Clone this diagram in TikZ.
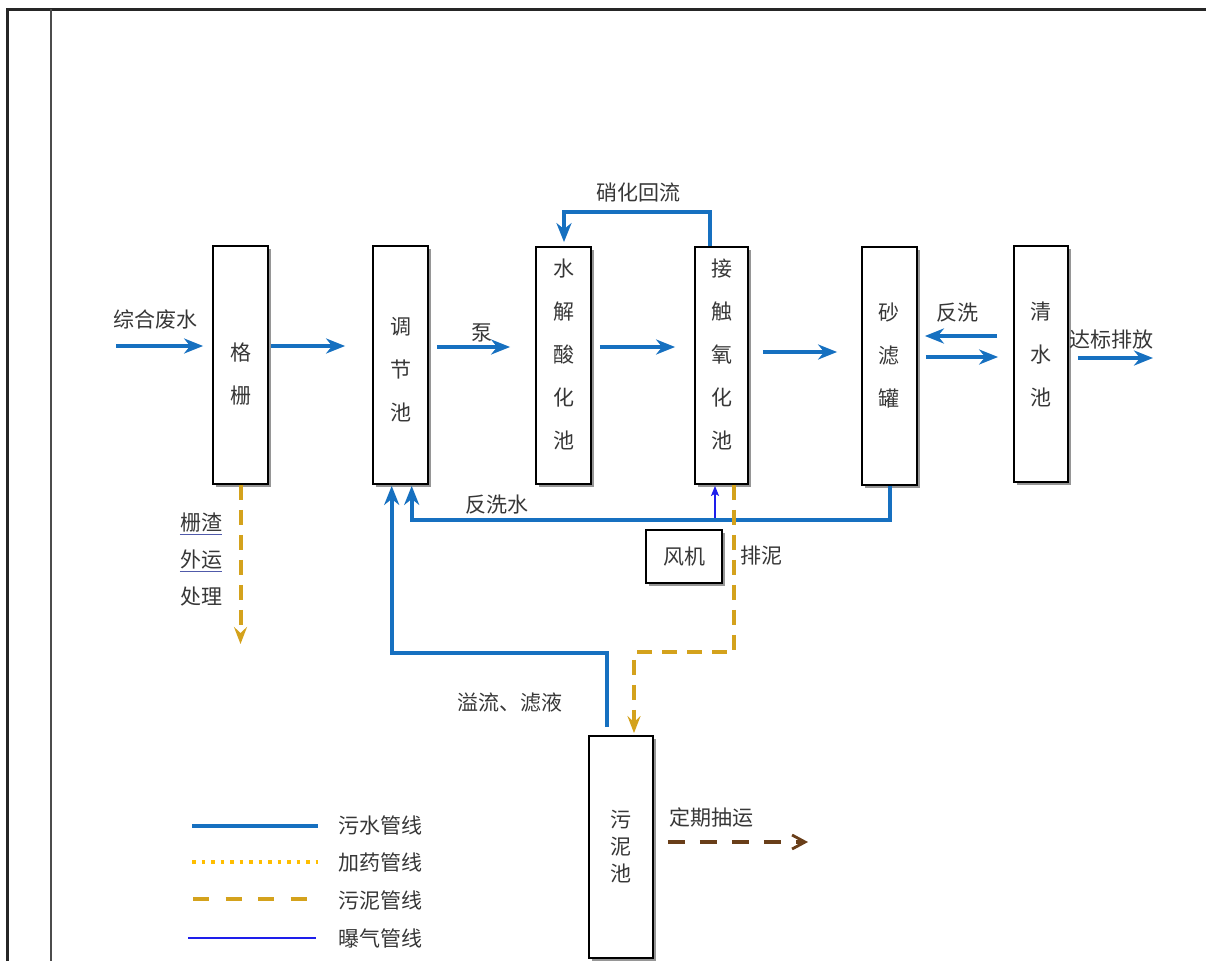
\documentclass[tikz,border=0pt]{standalone}
\usepackage{fontspec}
\newfontfamily\cjk{Noto Sans CJK SC}
\usetikzlibrary{arrows.meta,shadows,calc}
\definecolor{pipe}{RGB}{22,112,192}
\definecolor{sludge}{RGB}{212,162,28}
\definecolor{dose}{RGB}{255,190,0}
\definecolor{air}{RGB}{30,30,235}
\definecolor{brownc}{RGB}{105,62,25}
\definecolor{txt}{RGB}{55,55,55}
\definecolor{ulc}{RGB}{80,90,170}
\begin{document}
\begin{tikzpicture}[x=1pt,y=-1pt,
  tank/.style={draw=black,line width=1.8pt,fill=white,minimum width=55pt,minimum height=238pt,inner sep=0pt,
    drop shadow={shadow xshift=3pt,shadow yshift=-3pt,fill=black!55,opacity=0.75}},
  vt/.style={font=\cjk\fontsize{21}{43}\selectfont,text=txt,align=center,inner sep=0pt},
  lbl/.style={font=\cjk\fontsize{21}{25}\selectfont,text=txt,inner sep=0pt},
  bluep/.style={draw=pipe,line width=4pt,-{Stealth[length=19pt,width=15pt,inset=6pt]}},
  bluel/.style={draw=pipe,line width=4pt},
  sludgep/.style={draw=sludge,line width=4pt,dash pattern=on 15pt off 10pt,-{Stealth[length=17pt,width=13pt,inset=6pt]}},
  sludgel/.style={draw=sludge,line width=4pt,dash pattern=on 16pt off 16.5pt},
  dosel/.style={draw=dose,line width=3.5pt,dash pattern=on 3.5pt off 6pt},
  airp/.style={draw=air,line width=1.6pt,-{Stealth[length=10pt,width=8pt,inset=2pt]}},
  airl/.style={draw=air,line width=2pt},
  brownp/.style={draw=brownc,line width=3.5pt,dash pattern=on 17pt off 15pt,-{Straight Barb[length=13pt,width=14pt,line width=2.8pt]}},
  ul/.style={draw=ulc,line width=1pt}
]
\useasboundingbox (0,0) rectangle (1206,961);
% frame
\draw[line width=2.6pt,black!85] (7.5,961) -- (7.5,9.3) -- (1206,9.3);
\draw[line width=1.8pt,black!70] (51,9.3) -- (51,961);

% tanks
\node[tank] (gs) at (240.5,365) {};
\node[tank] (tj) at (400.5,365) {};
\node[tank,minimum height=237pt] (sj) at (563.5,365.5) {};
\node[tank,minimum width=53pt,minimum height=237pt] (jc) at (721.5,365.5) {};
\node[tank] (sl) at (889.5,366) {};
\node[tank,minimum width=54pt,minimum height=236pt] (qs) at (1041,364) {};
\node[tank,minimum width=64pt,minimum height=222pt] (wn) at (621,847) {};
\node[tank,minimum width=76pt,minimum height=53pt,font=\cjk\fontsize{21}{25}\selectfont,text=txt] (fj) at (684,556.5) {风机};

% tank texts
\node[vt] (gs-t) at (240.5,374.5) {格\\栅};
\node[vt] (tj-t) at (400.5,369.5) {调\\节\\池};
\node[vt] (sj-t) at (563.5,354) {水\\解\\酸\\化\\池};
\node[vt] (jc-t) at (721.5,354) {接\\触\\氧\\化\\池};
\node[vt] (sl-t) at (888.5,356) {砂\\滤\\罐};
\node[vt] (qs-t) at (1040.5,354.5) {清\\水\\池};
\node[vt,font=\cjk\fontsize{21}{27}\selectfont] (wn-t) at (620.5,847) {污\\泥\\池};

% labels
\node[lbl] (l-in) at (155,320) {综合废水};
\node[lbl] (l-pump) at (482,333) {泵};
\node[lbl] (l-nit) at (638,193) {硝化回流};
\node[lbl] (l-bw) at (957,313) {反洗};
\node[lbl] (l-out) at (1111,340) {达标排放};
\node[lbl] (l-bww) at (497,505) {反洗水};
\node[lbl] (l-of) at (510,703) {溢流、滤液};
\node[lbl] (l-sd) at (761,556) {排泥};
\node[lbl] (l-reg) at (711,817) {定期抽运};
\node[lbl] (l-zz) at (201,523) {栅渣};
\node[lbl] (l-wy) at (201,560) {外运};
\node[lbl] (l-cl) at (201,597) {处理};
\draw[ul] ([yshift=-2pt]l-zz.south west) -- ([yshift=-2pt]l-zz.south east);
\draw[ul] ([yshift=-2pt]l-wy.south west) -- ([yshift=-2pt]l-wy.south east);

% main flow
\coordinate (in0) at (116,346);
\coordinate (r1) at (0,346);
\coordinate (r2) at (0,347);
\coordinate (r3) at (0,352);
\coordinate (r4) at (0,336);
\coordinate (r5) at (0,357);
\coordinate (outend) at (1153,358);
\draw[bluep,shorten >=9pt] (in0) -- (gs.west |- in0);
\draw[bluep,shorten <=2pt,shorten >=27pt] (gs.east |- r1) -- (tj.west |- r1);
\draw[bluep,shorten <=8pt,shorten >=25pt] (tj.east |- r2) -- (sj.west |- r2);
\draw[bluep,shorten <=8pt,shorten >=19pt] (sj.east |- r2) -- (jc.west |- r2);
\draw[bluep,shorten <=14pt,shorten >=24pt] (jc.east |- r3) -- (sl.west |- r3);
\draw[bluep,shorten <=16pt,shorten >=7pt] (qs.west |- r4) -- (sl.east |- r4);
\draw[bluep,shorten <=8pt,shorten >=15pt] (sl.east |- r5) -- (qs.west |- r5);
\draw[bluep,shorten <=9pt] (qs.east |- outend) -- (outend);

% nitrification recycle
\draw[bluep,shorten >=4pt] ([xshift=-11.5pt]jc.north) -- ++(0,-34) -| ([xshift=0.5pt]sj.north);
% backwash water return
\draw[bluep,shorten >=1pt] (sl.south) -- ++(0,34.5) -| ([xshift=11.2pt]tj.south);
% overflow / filtrate
\draw[bluep,shorten <=8pt,shorten >=1pt] ([xshift=-14pt]wn.north) -- ++(0,-82.5) -| ([xshift=-8.8pt]tj.south);

% sludge
\coordinate (gsend) at (240.5,644);
\draw[sludgep] (gs.south) -- (gsend);
\draw[sludgep,shorten >=2pt] ([xshift=12.5pt]jc.south) -- ++(0,167.5) -| ([xshift=13pt]wn.north);
% periodic removal
\coordinate (regend) at (808,842);
\draw[brownp,shorten <=14pt] (wn.east |- regend) -- (regend);
% aeration
\draw[airp,shorten <=11pt,shorten >=1pt] ([xshift=31pt]fj.north) -- ([xshift=-6.5pt]jc.south);

% legend
\coordinate (lg1a) at (192,826);   \coordinate (lg1b) at (318,826);
\coordinate (lg2a) at (192,862);   \coordinate (lg2b) at (318,862);
\coordinate (lg3a) at (193,899);   \coordinate (lg3b) at (318,899);
\coordinate (lg4a) at (188,937.5); \coordinate (lg4b) at (316,937.5);
\draw[bluel] (lg1a) -- (lg1b);
\draw[dosel] (lg2a) -- (lg2b);
\draw[sludgel] (lg3a) -- (lg3b);
\draw[airl] (lg4a) -- (lg4b);
\node[lbl,anchor=west] (lg1t) at (338,825) {污水管线};
\node[lbl,anchor=west] (lg2t) at (338,862) {加药管线};
\node[lbl,anchor=west] (lg3t) at (338,900) {污泥管线};
\node[lbl,anchor=west] (lg4t) at (338,938) {曝气管线};
\end{tikzpicture}
\end{document}
